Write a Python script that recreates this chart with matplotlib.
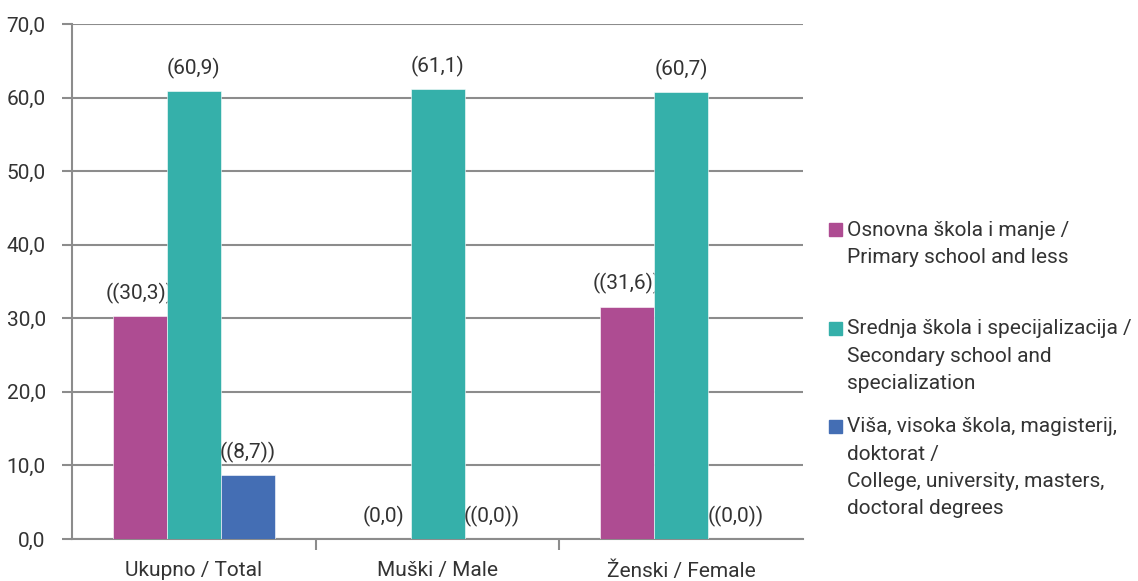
import numpy as np
import matplotlib
matplotlib.use('Agg')
import matplotlib.pyplot as plt
from matplotlib.patches import Rectangle

plt.rcParams['font.family'] = ['Roboto', 'DejaVu Sans']

# Podaci
kategorije = ['Ukupno / Total', 'Muški / Male', 'Ženski / Female']
serije = ['Osnovna škola i manje /\nPrimary school and less',
          'Srednja škola i specijalizacija /\nSecondary school and\nspecialization',
          'Viša, visoka škola, magisterij,\ndoktorat /\nCollege, university, masters,\ndoctoral degrees']
osnovna = [30.3, 0.0, 31.6]
srednja = [60.9, 61.1, 60.7]
visa = [8.7, 0.0, 0.0]
oznake_osnovna = ['((30,3))', '(0,0)', '((31,6))']
oznake_srednja = ['(60,9)', '(61,1)', '(60,7)']
oznake_visa = ['((8,7))', '((0,0))', '((0,0))']
boje = ['#AE4C92', '#35B0AA', '#446EB4']

siva = '#8C8C8C'
tekst = '#333333'
fs = 15
tezina = 'normal'

fig = plt.figure(figsize=(11.38, 5.81), dpi=100)
ax = fig.add_axes([0.0633, 0.0723, 0.6424, 0.8864])

x = np.arange(len(kategorije))
w = 0.222
podaci = [osnovna, srednja, visa]
oznake = [oznake_osnovna, oznake_srednja, oznake_visa]
for i in range(3):
    pos = x + (i - 1) * w
    ax.bar(pos, podaci[i], width=w, color=boje[i], edgecolor='white', linewidth=0.4, zorder=3)
    for xp, v, s in zip(pos, podaci[i], oznake[i]):
        ax.annotate(s, (xp, v), xytext=(0, 16.5), textcoords='offset points',
                    ha='center', va='center', fontsize=fs, color=tekst, fontweight=tezina)

ax.set_xlim(-0.5, 2.5)
ax.set_ylim(0, 70)
ax.set_yticks(np.arange(0, 71, 10))
ax.set_yticklabels([f'{v:.1f}'.replace('.', ',') for v in np.arange(0, 71, 10)],
                   fontsize=fs, color=tekst, fontweight=tezina)
ax.yaxis.grid(True, color=siva, linewidth=1.5, zorder=0)
ax.set_axisbelow(True)

ax.set_xticks(x)
ax.set_xticklabels(kategorije, fontsize=fs, color=tekst, fontweight=tezina)
ax.tick_params(axis='x', length=0, pad=16)
ax.set_xticks([0.5, 1.5], minor=True)
ax.tick_params(axis='x', which='minor', length=8, width=1.5, color=siva)
ax.tick_params(axis='y', length=7, width=1.5, color=siva, pad=12)

for s in ['top', 'right']:
    ax.spines[s].set_visible(False)
for s in ['left', 'bottom']:
    ax.spines[s].set_color(siva)
    ax.spines[s].set_linewidth(1.5)

# Legenda
leg_y = [236, 335, 433]
for boja, naziv, yb in zip(boje, serije, leg_y):
    fig.patches.append(Rectangle((829 / 1138, 1 - (yb) / 581), 13 / 1138, 13 / 581,
                                 transform=fig.transFigure, color=boja))
    fig.text(847 / 1138, 1 - (yb - 15.5) / 581, naziv, ha='left', va='top', fontsize=fs,
             color=tekst, fontweight=tezina, linespacing=1.55)

fig.savefig('out.png', dpi=100)
